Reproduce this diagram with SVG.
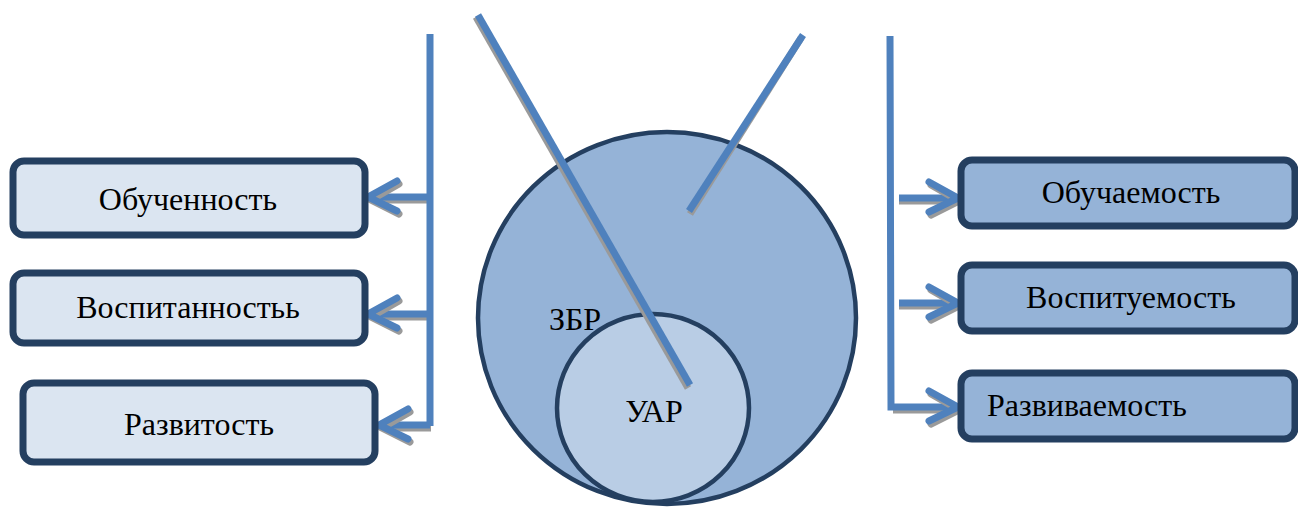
<svg xmlns="http://www.w3.org/2000/svg" width="1298" height="507" viewBox="0 0 1298 507">
<style>
.ln{fill:none;stroke:#4f81bd;stroke-width:7;}
.sh{fill:none;stroke:#9a9a9a;stroke-width:7;}
.hd{fill:none;stroke:#4f81bd;stroke-width:7;stroke-linecap:round;stroke-linejoin:miter;}
.hs{fill:none;stroke:#9a9a9a;stroke-width:7;stroke-linecap:round;}
.bl{fill:#dbe5f1;stroke:#243f60;stroke-width:7;}
.br{fill:#95b3d7;stroke:#243f60;stroke-width:7;}
</style>
<g id="zbr">
<ellipse cx="667" cy="318" rx="189" ry="186" fill="#95b3d7" stroke="#243f60" stroke-width="4.5"/>
<text font-family="'Liberation Serif', serif" font-size="32" x="575" y="330" text-anchor="middle">ЗБР</text>
</g>
<g id="uar">
<ellipse cx="653" cy="408" rx="96" ry="94" fill="#b9cde5" stroke="#243f60" stroke-width="4.5"/>
<text font-family="'Liberation Serif', serif" font-size="32" x="654" y="422" text-anchor="middle">УАР</text>
</g>
<g id="connectors">
<path class="sh" d="M476 17 L688 388"/>
<path class="ln" d="M478 15 L690 385"/>
<path class="sh" d="M801 38 L690 214"/>
<path class="ln" d="M803 35 L689 211"/>
<path class="sh" d="M431 200 L372 200 M431 317 L372 317 M431 428 L383 428"/>
<path class="ln" d="M430 34 L430 426 M430 197 L370 197 M430 314 L370 314 M430 425 L381 425"/>
<path class="hs" d="M399 184 L371 200 L399 214 M399 301 L371 317 L399 331 M410 412 L382 428 L410 442"/>
<path class="hd" d="M397 181 L368 197 L397 211 M397 298 L368 314 L397 328 M408 409 L379 425 L408 439"/>
<path class="sh" d="M899 201 L955 201 M899 306 L955 306 M893 410 L955 410"/>
<path class="ln" d="M890 36 L891 407 L956 407 M899 198 L956 198 M899 303 L956 303"/>
<path class="hs" d="M931 185 L959 201 L931 215 M931 290 L959 306 L931 320 M931 394 L959 410 L931 424"/>
<path class="hd" d="M929 182 L958 198 L929 212 M929 287 L958 303 L929 317 M929 391 L958 407 L929 421"/>
</g>
<g id="obuchennost">
<rect class="bl" x="13" y="161" width="352" height="74" rx="11"/>
<text font-family="'Liberation Serif', serif" font-size="32" x="188" y="210" text-anchor="middle">Обученность</text>
</g>
<g id="vospitannost">
<rect class="bl" x="13" y="273" width="352" height="70" rx="11"/>
<text font-family="'Liberation Serif', serif" font-size="32" x="188" y="318" text-anchor="middle">Воспитанностьь</text>
</g>
<g id="razvitost">
<rect class="bl" x="23" y="383" width="352" height="79" rx="11"/>
<text font-family="'Liberation Serif', serif" font-size="32" x="199" y="435" text-anchor="middle">Развитость</text>
</g>
<g id="obuchaemost">
<rect class="br" x="961" y="160" width="334" height="66" rx="11"/>
<text font-family="'Liberation Serif', serif" font-size="32" x="1131" y="203" text-anchor="middle">Обучаемость</text>
</g>
<g id="vospituemost">
<rect class="br" x="961" y="265" width="334" height="66" rx="11"/>
<text font-family="'Liberation Serif', serif" font-size="32" x="1131" y="308" text-anchor="middle">Воспитуемость</text>
</g>
<g id="razvivaemost">
<rect class="br" x="961" y="373" width="334" height="66" rx="11"/>
<text font-family="'Liberation Serif', serif" font-size="32" x="987" y="416">Развиваемость</text>
</g>
</svg>
